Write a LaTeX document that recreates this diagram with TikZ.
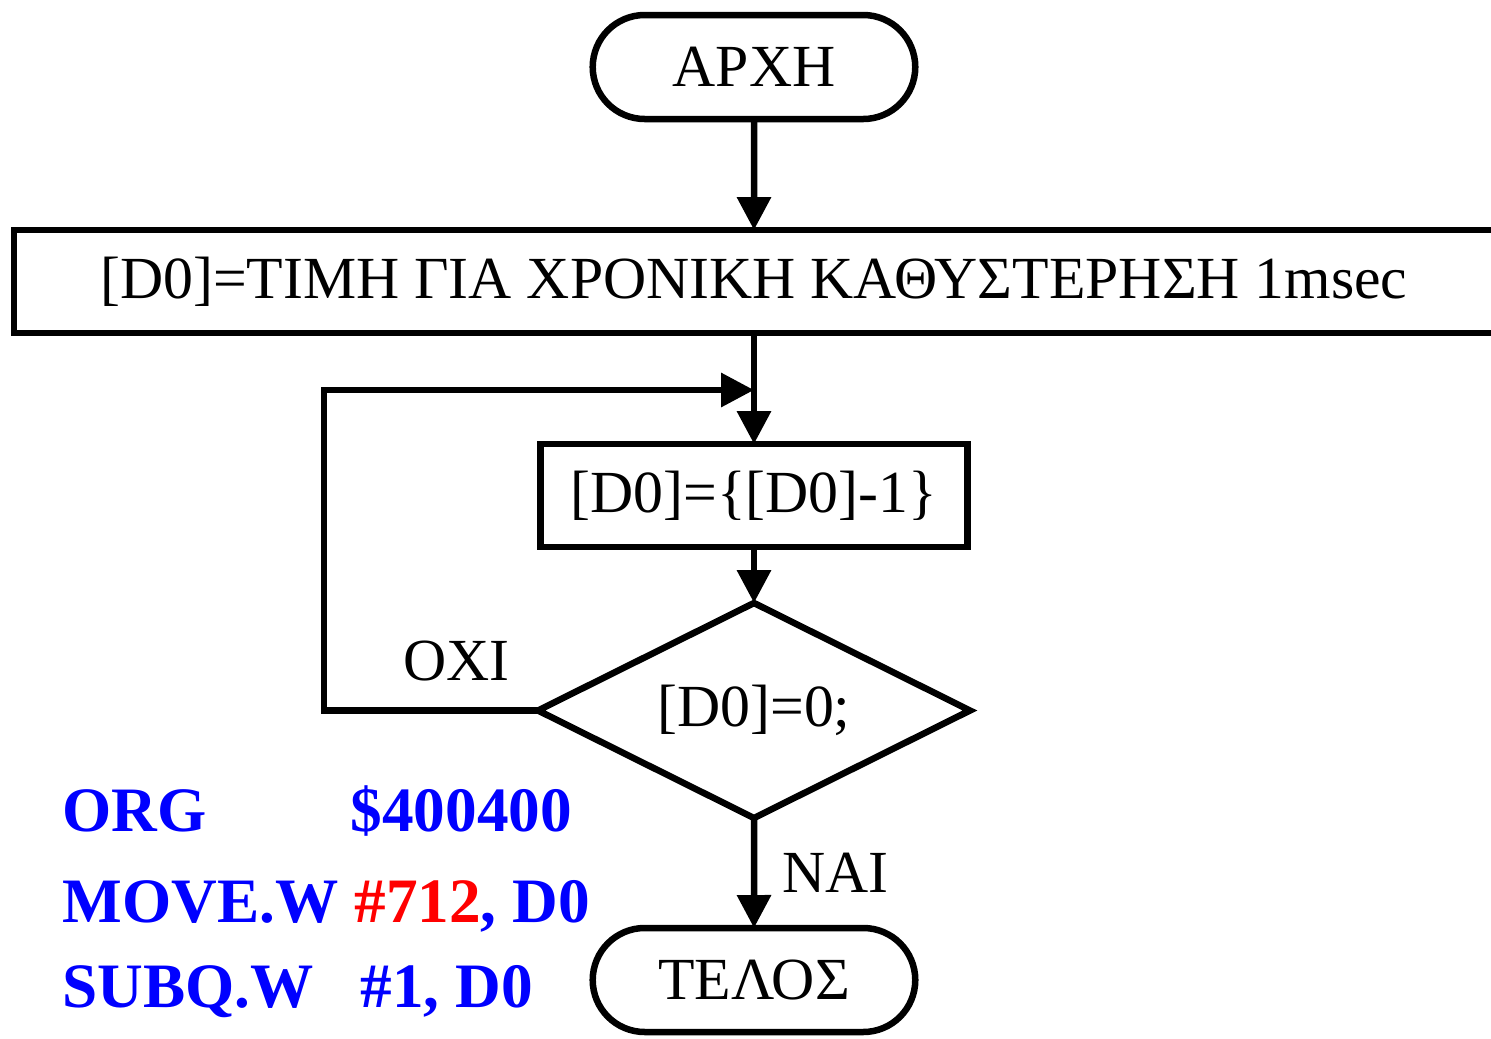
\documentclass[tikz,border=0pt]{standalone}
\usepackage{fontspec}
\setmainfont{Liberation Serif}
\usetikzlibrary{shapes.geometric, shapes.misc, positioning, arrows.meta}

\tikzset{
    term/.style={draw, rounded rectangle, line width=0.065cm, outer sep=0pt,
        minimum width=3.46cm, minimum height=1.04cm},
    proc/.style={draw, rectangle, line width=0.065cm, outer sep=0pt,
        minimum height=1.03cm},
    test/.style={draw, diamond, aspect=2, line width=0.065cm, outer sep=0pt,
        inner sep=0pt, minimum width=4.32cm, minimum height=2.15cm},
    flow/.style={line width=0.065cm, -{Triangle[length=0.33cm, width=0.33cm]}},
    code/.style={anchor=base west, inner sep=0pt, text=blue,
        font=\fontsize{18}{21}\selectfont\bfseries}
}

\begin{document}
\begin{tikzpicture}[font=\fontsize{17}{20}\selectfont]
    \useasboundingbox (0,0) rectangle (14.91,-10.38);

    \node[term] (start) at (7.54,-0.67) {ΑΡΧΗ};
    \node[proc, minimum width=14.8cm] (init) [below=1.11cm of start]
        {[D0]=ΤΙΜΗ ΓΙΑ ΧΡΟΝΙΚΗ ΚΑΘΥΣΤΕΡΗΣΗ 1msec};
    \node[proc, minimum width=4.27cm] (dec) [below=1.11cm of init] {[D0]=\{[D0]-1\}};
    \node[test] (check) [below=0.56cm of dec] {[D0]=0;};
    \node[term] (stop) [below=1.10cm of check] {ΤΕΛΟΣ};

    % loop back into the line above the decrement
    \coordinate (join) at (7.54,-3.90);
    \coordinate (loopx) at (3.24,0);

    \path[flow]
    (start) edge (init)
    (init) edge (dec)
    (dec) edge (check)
    (check) edge node [right, inner sep=0.25cm] {ΝΑΙ} (stop)
    ;
    \draw[flow] (check.west) -- node [above, pos=0.38, yshift=0.14cm] {ΟΧΙ}
        (check.west -| loopx) |- (join);

    % assembly listing
    \node[code] (org) at (0.62,-8.31) {ORG};
    \node[code] (orgarg) at (3.50,-8.31) {\$400400};
    \node[code] (move) at (0.62,-9.22) {MOVE.W \textcolor{red}{\#712}, D0};
    \node[code] (subq) at (0.62,-10.07) {SUBQ.W};
    \node[code] (subqarg) at (3.60,-10.07) {\#1, D0};
\end{tikzpicture}
\end{document}
